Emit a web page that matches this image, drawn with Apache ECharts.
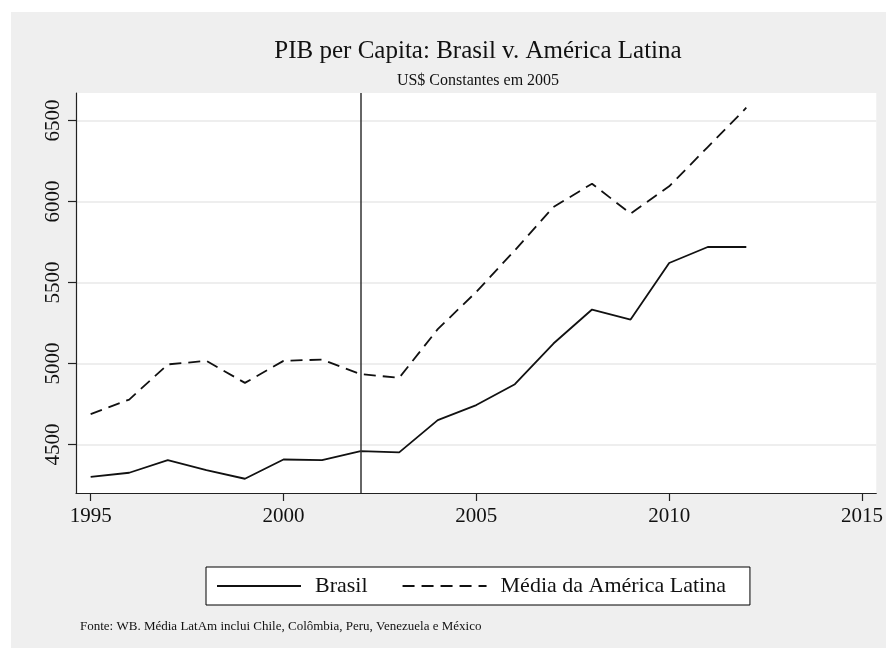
<!DOCTYPE html>
<html lang="pt">

<head>
    <meta charset="UTF-8">
    <title>PIB per Capita</title>
    <script src="https://cdn.jsdelivr.net/npm/echarts@6/dist/echarts.min.js"></script>
</head>

<style>
    html,
    body {
        margin: 0;
        padding: 0;
        background: #fff;
    }

    #chart {
        width: 886px;
        height: 648px;
    }
</style>

<body>
    <div id="chart"></div>

    <script>
        // valores (US$ constantes de 2005)
        let years = [1995, 1996, 1997, 1998, 1999, 2000, 2001, 2002, 2003, 2004, 2005, 2006, 2007, 2008, 2009, 2010, 2011, 2012];
        let brasil = [4300, 4325, 4403, 4341, 4288, 4407, 4403, 4459, 4451, 4650, 4743, 4872, 5123, 5333, 5271, 5620, 5719, 5719];
        let latam = [4687, 4777, 4994, 5016, 4880, 5016, 5024, 4934, 4911, 5212, 5442, 5699, 5966, 6110, 5925, 6094, 6336, 6579];
        let xTicks = [1995, 2000, 2005, 2010, 2015];
        let yTicks = [4500, 5000, 5500, 6000, 6500];
        let markYear = 2002;

        let serif = "'Liberation Serif', 'DejaVu Serif', serif";
        let ink = '#111';

        function pairs(values) {
            return years.map(function (y, i) {
                return [y, values[i]];
            });
        }

        option = {
            backgroundColor: '#fff',
            animation: false,
            graphic: [
                {
                    type: 'rect',
                    z: -100,
                    shape: { x: 11, y: 12, width: 875, height: 636 },
                    style: { fill: '#efefef' }
                },
                {
                    type: 'text',
                    x: 478,
                    y: 51,
                    style: {
                        text: 'PIB per Capita: Brasil v. América Latina',
                        fontFamily: serif,
                        fontSize: 25,
                        fill: ink,
                        textAlign: 'center',
                        textVerticalAlign: 'middle'
                    }
                },
                {
                    type: 'text',
                    x: 478,
                    y: 81,
                    style: {
                        text: 'US$ Constantes em 2005',
                        fontFamily: serif,
                        fontSize: 16,
                        fill: ink,
                        textAlign: 'center',
                        textVerticalAlign: 'middle'
                    }
                },
                {
                    type: 'text',
                    x: 80,
                    y: 627,
                    style: {
                        text: 'Fonte: WB. Média LatAm inclui Chile, Colômbia, Peru, Venezuela e México',
                        fontFamily: serif,
                        fontSize: 13,
                        fill: ink,
                        textAlign: 'left',
                        textVerticalAlign: 'middle'
                    }
                }
            ],
            grid: {
                left: 76,
                right: 5,
                top: 93,
                bottom: 155,
                show: true,
                backgroundColor: '#fff',
                borderWidth: 0
            },
            legend: {
                data: ['Brasil', 'Média da América Latina'],
                left: 206,
                top: 567,
                orient: 'horizontal',
                itemWidth: 84,
                itemHeight: 2,
                itemGap: 34,
                padding: [8, 24, 8, 10],
                borderColor: '#000',
                borderWidth: 1,
                backgroundColor: '#fff',
                textStyle: {
                    fontFamily: serif,
                    fontSize: 22,
                    color: ink,
                    padding: [0, 0, 0, 9]
                }
            },
            xAxis: {
                type: 'value',
                min: 1994.62,
                max: 2015.37,
                axisLine: {
                    show: true,
                    lineStyle: { color: '#222', width: 1.2 }
                },
                axisTick: {
                    show: true,
                    customValues: xTicks,
                    length: 8,
                    lineStyle: { color: '#222', width: 1.2 }
                },
                axisLabel: {
                    customValues: xTicks,
                    margin: 13,
                    fontFamily: serif,
                    fontSize: 21,
                    color: ink,
                    formatter: function (v) {
                        return String(Math.round(v));
                    }
                },
                splitLine: { show: false }
            },
            yAxis: {
                type: 'value',
                min: 4200,
                max: 6670,
                axisLine: {
                    show: true,
                    lineStyle: { color: '#222', width: 1.2 }
                },
                axisTick: {
                    show: true,
                    customValues: yTicks,
                    length: 8,
                    lineStyle: { color: '#222', width: 1.2 }
                },
                axisLabel: {
                    customValues: yTicks,
                    rotate: 90,
                    margin: 12,
                    fontFamily: serif,
                    fontSize: 21,
                    color: ink,
                    formatter: function (v) {
                        return String(Math.round(v));
                    }
                },
                splitLine: {
                    show: true,
                    lineStyle: { color: '#e8e8e8', width: 1.5 }
                }
            },
            series: [
                {
                    name: 'Brasil',
                    type: 'line',
                    data: pairs(brasil),
                    symbol: 'none',
                    color: ink,
                    lineStyle: { color: ink, width: 1.8 },
                    markLine: {
                        silent: true,
                        symbol: 'none',
                        label: { show: false },
                        lineStyle: { color: '#333', width: 1.5, type: 'solid' },
                        data: [{ xAxis: markYear }]
                    }
                },
                {
                    name: 'Média da América Latina',
                    type: 'line',
                    data: pairs(latam),
                    symbol: 'none',
                    color: ink,
                    lineStyle: { color: ink, width: 1.8, type: [12, 7] }
                }
            ]
        };

        var myChart = echarts.init(document.getElementById('chart'));
        myChart.setOption(option);
    </script>
</body>

</html>
